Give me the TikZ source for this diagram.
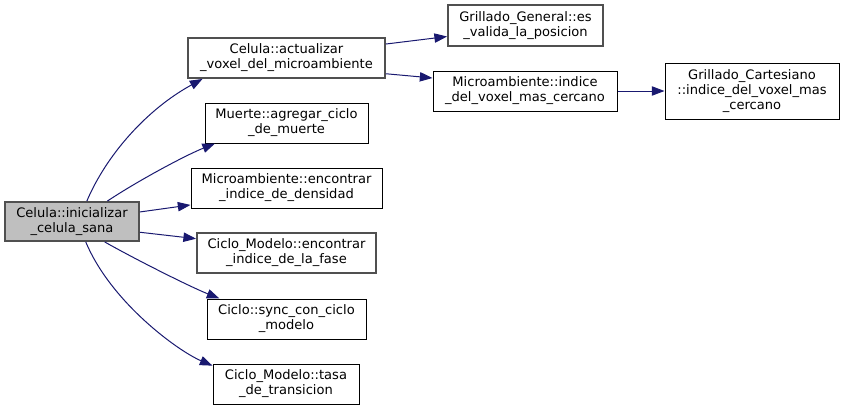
\documentclass[tikz,border=0pt]{standalone}
\usepackage{fontspec}
\setmainfont{DejaVu Sans}
\usetikzlibrary{arrows.meta}

\definecolor{edgeblue}{RGB}{25,25,112}
\definecolor{boxgray}{RGB}{80,80,80}
\definecolor{rootfill}{RGB}{191,191,191}

\tikzset{every picture/.style={line width=0.75pt}}
\tikzset{
  fnbox/.style={draw=black, line width=0.75pt, fill=white, align=center, inner sep=0pt,
    font=\fontsize{9.8}{11.25}\selectfont},
  fngray/.style={fnbox, draw=boxgray, line width=1.4pt},
  fnroot/.style={fngray, fill=rootfill},
  call/.style={draw=edgeblue, line width=0.75pt, -{Triangle[length=9.5pt,width=7pt]}}
}

\begin{document}
\begin{tikzpicture}[x=0.75pt,y=0.75pt,yscale=-1,xscale=1]
  \useasboundingbox (0,0) rectangle (844,411);

  %Shape: Rectangle [root]
  \node [fnroot, minimum width=100.5pt, minimum height=29.25pt] (inicializar) at (72,221.5) {Celula::inicializar\\\_celula\_sana};
  %Shape: Rectangle
  \node [fngray, minimum width=147.75pt, minimum height=30pt] (actualizar) at (286.5,58) {Celula::actualizar\\\_voxel\_del\_microambiente};
  %Shape: Rectangle
  \node [fnbox, minimum width=122.25pt, minimum height=30pt] (muerte) at (286.5,123) {Muerte::agregar\_ciclo\\\_de\_muerte};
  %Shape: Rectangle
  \node [fnbox, minimum width=143.25pt, minimum height=30pt] (densidad) at (286.5,188) {Microambiente::encontrar\\\_indice\_de\_densidad};
  %Shape: Rectangle
  \node [fngray, minimum width=134.25pt, minimum height=30pt] (fase) at (286.5,253) {Ciclo\_Modelo::encontrar\\\_indice\_de\_la\_fase};
  %Shape: Rectangle
  \node [fnbox, minimum width=119.25pt, minimum height=30pt] (sync) at (286.5,319) {Ciclo::sync\_con\_ciclo\\\_modelo};
  %Shape: Rectangle
  \node [fnbox, minimum width=109.5pt, minimum height=30pt] (tasa) at (286,384) {Ciclo\_Modelo::tasa\\\_de\_transicion};
  %Shape: Rectangle
  \node [fngray, minimum width=116.25pt, minimum height=30.75pt] (valida) at (525.5,25.5) {Grillado\_General::es\\\_valida\_la\_posicion};
  %Shape: Rectangle
  \node [fnbox, minimum width=138pt, minimum height=30pt] (voxel) at (525,91) {Microambiente::indice\\\_del\_voxel\_mas\_cercano};
  %Shape: Rectangle
  \node [fnbox, minimum width=130.5pt, minimum height=42pt] (cartesiano) at (752,91) {Grillado\_Cartesiano\\::indice\_del\_voxel\_mas\\\_cercano};

  %Curve Lines
  \draw [call] (inicializar.54) .. controls +(20,-47) and +(-55,30) .. (actualizar.194.7);
  \draw [call] (inicializar.30.6) .. controls +(30,-20) and +(-30,12) .. (muerte.196.3);
  \draw [call] (inicializar.328.9) .. controls +(30,17) and +(-30,-12) .. (sync.163.3);
  \draw [call] (inicializar.304.3) .. controls +(25,60) and +(-35,-15) .. (tasa.166.1);
  %Straight Lines
  \draw [call] (inicializar.8.1) -- (densidad.190.1);
  \draw [call] (inicializar.351.1) -- (fase.171.7);
  \draw [call] (actualizar.8.1) -- (valida.188.4);
  \draw [call] (actualizar.351.9) -- (voxel.172.6);
  \draw [call] (voxel) -- (cartesiano);

\end{tikzpicture}
\end{document}
